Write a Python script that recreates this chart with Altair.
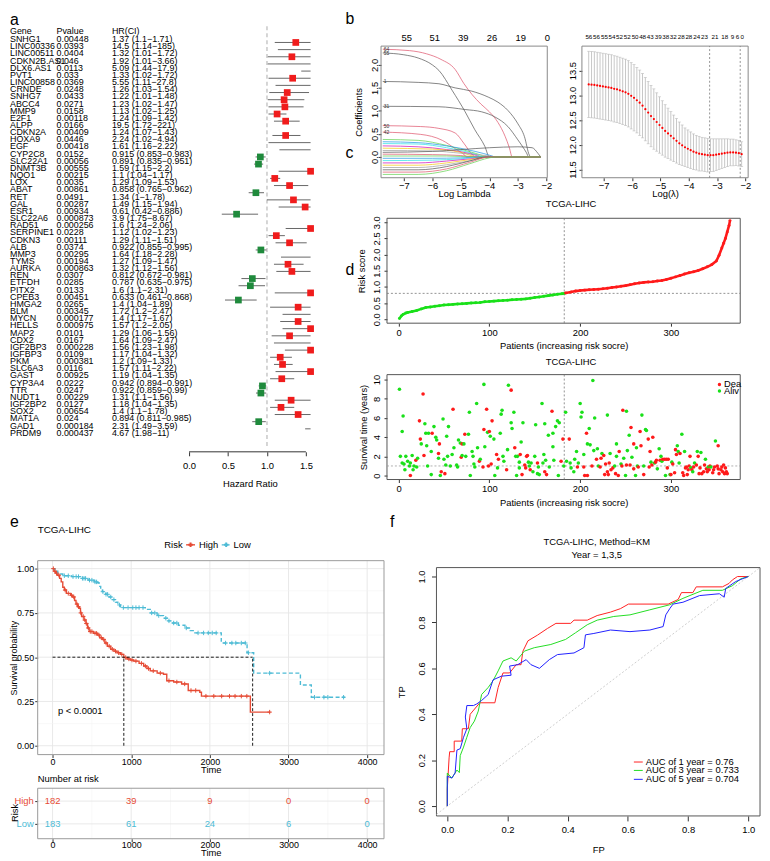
import altair as alt
import pandas as pd

# ============================================================ DATA
# ---- a: univariate Cox forest plot
genes = ["SNHG1", "LINC00336", "LINC00511", "CDKN2B.AS1", "DLX6.AS1", "PVT1", "LINC00858", "CRNDE", "SNHG7", "ABCC4",
         "MMP9", "E2F1", "ALPP", "CDKN2A", "HOXA9", "EGF", "CYP2C8", "SLC22A1", "DNMT3B", "NQO1",
         "LOX", "ABAT", "RET", "GAL", "ESR1", "SLC22A6", "RAD51", "SERPINE1", "CDKN3", "ALB",
         "MMP3", "TYMS", "AURKA", "REN", "ETFDH", "PITX2", "CPEB3", "HMGA2", "BLM", "MYCN",
         "HELLS", "MAP2", "CDX2", "IGF2BP3", "IGFBP3", "PKM", "SLC6A3", "GAST", "CYP3A4", "TTR",
         "NUDT1", "IGF2BP2", "SOX2", "MAT1A", "GAD1", "PRDM9"]
pvalues = [0.00448, 0.0393, 0.0404, 0.046, 0.0113, 0.033, 0.0369, 0.0248, 0.0433, 0.0271,
           0.0158, 0.00118, 0.0166, 0.00409, 0.0446, 0.00418, 0.0152, 0.00056, 0.00555, 0.00215,
           0.0035, 0.00861, 0.0491, 0.00287, 0.00934, 0.000873, 0.000256, 0.0228, 0.00111, 0.0374,
           0.00295, 0.00194, 0.000863, 0.0307, 0.0285, 0.0133, 0.00451, 0.0265, 0.00345, 0.000177,
           0.000975, 0.0101, 0.0167, 0.000228, 0.0109, 0.000381, 0.0116, 0.00925, 0.0222, 0.0247,
           0.00229, 0.0127, 0.00654, 0.024, 0.000184, 0.000437]
hr_est = [1.37, 14.5, 1.32, 1.92, 5.09, 1.33, 5.55, 1.26, 1.22, 1.23,
          1.13, 1.24, 19.5, 1.24, 2.24, 1.61, 0.915, 0.891, 1.59, 1.1,
          1.29, 0.858, 1.34, 1.49, 0.61, 3.9, 1.6, 1.12, 1.29, 0.922,
          1.64, 1.27, 1.32, 0.812, 0.787, 1.6, 0.633, 1.4, 1.72, 1.4,
          1.57, 1.29, 1.64, 1.56, 1.17, 1.2, 1.57, 1.19, 0.942, 0.922,
          1.31, 1.18, 1.4, 0.894, 2.31, 4.67]
hr_low = [1.1, 1.14, 1.01, 1.01, 1.44, 1.02, 1.11, 1.03, 1.01, 1.02,
          1.02, 1.09, 1.72, 1.07, 1.02, 1.16, 0.853, 0.835, 1.15, 1.04,
          1.09, 0.765, 1, 1.15, 0.42, 1.75, 1.24, 1.02, 1.11, 0.855,
          1.18, 1.09, 1.12, 0.672, 0.635, 1.1, 0.461, 1.04, 1.2, 1.17,
          1.2, 1.06, 1.09, 1.23, 1.04, 1.09, 1.11, 1.04, 0.894, 0.859,
          1.1, 1.04, 1.1, 0.811, 1.49, 1.98]
hr_high = [1.71, 185, 1.72, 3.66, 17.9, 1.72, 27.8, 1.54, 1.48, 1.47,
           1.25, 1.42, 221, 1.43, 4.94, 2.22, 0.983, 0.951, 2.2, 1.17,
           1.53, 0.962, 1.78, 1.94, 0.886, 8.67, 2.06, 1.23, 1.51, 0.995,
           2.28, 1.47, 1.56, 0.981, 0.975, 2.31, 0.868, 1.89, 2.47, 1.67,
           2.05, 1.56, 2.47, 1.98, 1.32, 1.33, 2.22, 1.35, 0.991, 0.99,
           1.56, 1.35, 1.78, 0.985, 3.59, 11]

# ---- b (left): LASSO coefficient paths (log lambda, coefficient)
b1_paths = {
    "64": [(-7.74, 2.34), (-6.8, 2.31), (-6.2, 2.24), (-5.7, 2.12), (-5.2, 1.90), (-4.9, 1.60), (-4.6, 1.35),
           (-4.3, 1.15), (-4.0, 0.98), (-3.7, 0.75), (-3.45, 0.45), (-3.3, 0.2), (-3.2, 0.0), (-2.2, 0.0)],
    "55": [(-7.74, 2.26), (-7.0, 2.22), (-6.5, 2.15), (-6.0, 2.0), (-5.77, 1.88), (-5.31, 1.45), (-4.85, 0.98),
           (-4.51, 0.59), (-4.16, 0.23), (-4.0, 0.0), (-2.2, 0.0)],
    "1": [(-7.74, 1.64), (-6.5, 1.62), (-5.77, 1.59), (-5.2, 1.50), (-4.62, 1.43), (-4.04, 1.30), (-3.7, 1.19),
          (-3.35, 1.01), (-3.0, 0.72), (-2.77, 0.44), (-2.6, 0.04), (-2.55, 0.0), (-2.2, 0.0)],
    "31": [(-7.74, 1.10), (-5.77, 1.09), (-4.85, 1.03), (-4.27, 0.98), (-3.81, 0.87), (-3.35, 0.66), (-3.0, 0.37),
           (-2.7, 0.09), (-2.62, 0.0), (-2.2, 0.0)],
    "50": [(-7.74, 0.68), (-6.41, 0.66), (-5.77, 0.62), (-5.2, 0.52), (-4.9, 0.30), (-4.6, 0.05), (-4.5, 0.0), (-2.2, 0.0)],
    "42": [(-7.74, 0.54), (-6.41, 0.49), (-5.65, 0.36), (-5.2, 0.18), (-4.85, 0.03), (-4.8, 0.0), (-2.2, 0.0)],
    "b1": [(-7.74, 0.38), (-6.5, 0.36), (-5.5, 0.25), (-4.5, 0.08), (-4.0, 0.0), (-2.2, 0.0)],
    "b2": [(-7.74, 0.33), (-6.5, 0.31), (-5.5, 0.24), (-4.5, 0.12), (-3.9, 0.02), (-3.8, 0.0), (-2.2, 0.0)],
    "b3": [(-7.74, 0.29), (-6.5, 0.28), (-5.5, 0.20), (-4.5, 0.06), (-4.2, 0.0), (-2.2, 0.0)],
    "b4": [(-7.74, 0.24), (-6.5, 0.22), (-5.5, 0.16), (-4.5, 0.04), (-4.3, 0.0), (-2.2, 0.0)],
    "b5": [(-7.74, 0.19), (-6.0, 0.17), (-5.0, 0.10), (-4.4, 0.0), (-2.2, 0.0)],
    "b6": [(-7.74, 0.14), (-6.0, 0.13), (-5.0, 0.08), (-4.0, 0.02), (-3.8, 0.0), (-2.2, 0.0)],
    "b7": [(-7.74, 0.10), (-6.0, 0.12), (-5.0, 0.16), (-4.0, 0.20), (-3.0, 0.22), (-2.5, 0.20), (-2.3, 0.08), (-2.2, 0.0)],
    "b8": [(-7.74, 0.06), (-6.0, 0.05), (-5.0, 0.03), (-4.5, 0.0), (-2.2, 0.0)],
    "b9": [(-7.74, 0.02), (-5.5, 0.02), (-4.5, 0.0), (-2.2, 0.0)],
    "b10": [(-7.74, -0.03), (-6.0, -0.03), (-5.0, -0.02), (-4.2, 0.0), (-2.2, 0.0)],
    "b11": [(-7.74, -0.08), (-6.0, -0.07), (-5.0, -0.04), (-4.3, 0.0), (-2.2, 0.0)],
    "b12": [(-7.74, -0.13), (-6.5, -0.13), (-5.5, -0.09), (-4.5, -0.03), (-4.0, 0.0), (-2.2, 0.0)],
    "b13": [(-7.74, -0.18), (-6.5, -0.18), (-5.5, -0.13), (-4.5, -0.04), (-4.1, 0.0), (-2.2, 0.0)],
    "b14": [(-7.74, -0.23), (-6.5, -0.23), (-5.5, -0.17), (-4.5, -0.06), (-4.0, 0.0), (-2.2, 0.0)],
    "b15": [(-7.74, -0.28), (-6.5, -0.28), (-5.5, -0.21), (-4.7, -0.09), (-4.1, 0.0), (-2.2, 0.0)],
    "b16": [(-7.74, -0.33), (-6.5, -0.33), (-5.5, -0.26), (-4.7, -0.12), (-4.0, 0.0), (-2.2, 0.0)],
    "b17": [(-7.74, -0.38), (-6.5, -0.38), (-5.5, -0.30), (-4.7, -0.15), (-4.0, -0.02), (-3.8, 0.0), (-2.2, 0.0)],
}
b1_tags = ["64", "55", "1", "31", "50", "42"]
b1_top_lam = [-6.90, -5.92, -4.92, -3.91, -2.90, -1.97]
b1_top_lab = ["55", "51", "39", "26", "19", "0"]

# ---- b (right): cross-validation curve
cv_lam = [-7.53, -7.43, -7.33, -7.23, -7.13, -7.03, -6.93, -6.83, -6.73, -6.63, -6.53, -6.43, -6.33, -6.23,
          -6.13, -6.03, -5.93, -5.83, -5.73, -5.63, -5.53, -5.43, -5.33, -5.23, -5.13, -5.03, -4.93, -4.83,
          -4.73, -4.63, -4.53, -4.43, -4.33, -4.23, -4.13, -4.03, -3.93, -3.83, -3.73, -3.63, -3.53, -3.43,
          -3.33, -3.23, -3.13, -3.03, -2.93, -2.83, -2.73, -2.63, -2.53, -2.43, -2.33, -2.23, -2.13]
cv_mean = [13.22, 13.215, 13.21, 13.20, 13.19, 13.18, 13.17, 13.16, 13.15, 13.13, 13.12, 13.10, 13.08, 13.06,
           13.03, 12.99, 12.95, 12.90, 12.85, 12.79, 12.72, 12.65, 12.58, 12.52, 12.46, 12.40, 12.34, 12.28,
           12.23, 12.18, 12.13, 12.08, 12.03, 11.99, 11.95, 11.92, 11.89, 11.86, 11.84, 11.82, 11.81, 11.80,
           11.79, 11.79, 11.79, 11.80, 11.81, 11.82, 11.83, 11.84, 11.845, 11.845, 11.84, 11.83, 11.81]
cv_se = [0.67, 0.67, 0.67, 0.67, 0.67, 0.67, 0.67, 0.67, 0.67, 0.67, 0.67, 0.67, 0.67, 0.67,
         0.67, 0.67, 0.67, 0.66, 0.66, 0.65, 0.64, 0.63, 0.62, 0.61, 0.59, 0.57, 0.55, 0.53,
         0.51, 0.49, 0.47, 0.45, 0.43, 0.41, 0.39, 0.38, 0.37, 0.36, 0.35, 0.35, 0.34, 0.34,
         0.34, 0.33, 0.33, 0.32, 0.31, 0.30, 0.29, 0.28, 0.27, 0.27, 0.26, 0.26, 0.25]
b2_top_lam = [-7.525, -7.256, -6.976, -6.71, -6.441, -6.172, -5.892, -5.627, -5.357, -5.078, -4.808,
              -4.543, -4.263, -3.994, -3.714, -3.445, -3.074, -2.725, -2.455, -2.28, -2.106]
b2_top_lab = ["56", "56", "55", "54", "52", "52", "50", "48", "43", "39", "38",
              "32", "28", "28", "24", "23", "21", "18", "9", "6", "0"]
b2_vlines = [-3.26, -2.18]

# ---- c: sorted risk scores
c_patient = [1, 3, 5, 8, 10, 15, 20, 25, 30, 35, 40, 45, 50, 55, 60, 65, 70, 75, 80, 85, 90, 95, 100, 105,
             110, 115, 120, 125, 130, 135, 140, 145, 150, 155, 160, 165, 170, 175, 180, 183, 184, 190, 195,
             200, 205, 210, 215, 220, 225, 230, 235, 240, 245, 250, 255, 260, 265, 270, 275, 280, 285, 290,
             295, 300, 305, 310, 315, 320, 325, 330, 335, 340, 345, 350, 353, 356, 358, 360, 362, 364, 365]
c_risk = [0.02, 0.10, 0.15, 0.19, 0.21, 0.24, 0.27, 0.32, 0.36, 0.38, 0.40, 0.42, 0.44, 0.45, 0.46, 0.47,
          0.48, 0.49, 0.50, 0.51, 0.52, 0.54, 0.55, 0.56, 0.57, 0.58, 0.59, 0.60, 0.61, 0.62, 0.63, 0.65,
          0.67, 0.69, 0.71, 0.73, 0.75, 0.77, 0.79, 0.80, 0.81, 0.84, 0.87, 0.89, 0.90, 0.91, 0.92, 0.93,
          0.94, 0.96, 0.98, 1.00, 1.02, 1.04, 1.07, 1.10, 1.12, 1.14, 1.15, 1.16, 1.18, 1.20, 1.23, 1.27,
          1.31, 1.35, 1.40, 1.44, 1.47, 1.51, 1.56, 1.62, 1.69, 1.80, 1.98, 2.20, 2.35, 2.50, 2.70, 2.90, 3.05]
n_low_risk = 183
risk_cutoff = 0.8

# ---- d: survival status by patient
d_patient = [1, 2, 4, 5, 4, 6, 8, 7, 10, 12, 13, 13, 15, 17, 16, 19, 21, 20, 23, 24,
             25, 27, 28, 29, 30, 31, 32, 33, 37, 36, 36, 39, 41, 42, 44, 44, 45, 46, 47, 49,
             50, 51, 52, 53, 54, 55, 57, 60, 59, 61, 64, 65, 66, 68, 69, 70, 70, 72, 73, 74,
             77, 78, 79, 81, 82, 83, 84, 86, 87, 89, 90, 94, 93, 94, 95, 97, 98, 99, 100, 101,
             102, 103, 105, 106, 108, 109, 110, 112, 113, 114, 115, 116, 119, 120, 121, 124, 124, 125, 127, 128,
             129, 130, 131, 133, 133, 134, 135, 136, 137, 139, 140, 141, 142, 143, 144, 145, 146, 148, 150, 151,
             153, 153, 154, 155, 158, 159, 160, 161, 161, 162, 163, 165, 166, 169, 170, 170, 171, 173, 175, 176,
             177, 179, 181, 182, 184, 185, 188, 189, 190, 193, 194, 196, 197, 198, 200, 202, 201, 204, 204, 205,
             207, 208, 208, 210, 211, 213, 214, 215, 216, 218, 219, 220, 222, 223, 224, 226, 227, 228, 230, 230,
             231, 232, 233, 234, 236, 238, 239, 240, 240, 242, 243, 245, 246, 247, 248, 250, 251, 251, 252, 254,
             255, 256, 257, 259, 259, 261, 262, 263, 264, 266, 267, 268, 270, 270, 272, 273, 275, 276, 277, 278,
             279, 280, 282, 283, 284, 285, 287, 288, 289, 290, 291, 293, 294, 295, 296, 297, 299, 300, 301, 302,
             304, 305, 306, 307, 308, 309, 310, 312, 313, 314, 315, 316, 317, 318, 319, 320, 321, 322, 323, 324,
             325, 326, 328, 329, 330, 331, 332, 333, 334, 336, 337, 338, 339, 340, 341, 342, 343, 344, 346, 347,
             348, 349, 351, 352, 352, 353, 355, 356, 357, 358, 359, 360, 361, 362]
d_years = [9.0, 2.0, 1.3, 6.2, 4.6, 1.2, 2.0, 0.6, 1.5, 1.0, 0.0, 1.3, 2.1, 1.0, 0.6, 1.6, 1.8, 0.9, 5.7, 3.8,
           3.3, 8.5, 2.1, 5.4, 4.4, 3.1, 1.0, 4.4, 4.4, 2.5, 0.1, 5.1, 4.0, 3.7, 2.3, 1.8, 3.3, 0.0, 0.4, 5.9,
           1.7, 0.2, 1.1, 4.1, 2.0, 5.1, 1.0, 6.9, 2.2, 2.9, 1.1, 0.9, 3.7, 3.4, 1.9, 2.1, 3.3, 3.3, 4.3, 2.0,
           4.3, 6.6, 0.0, 2.5, 2.0, 1.2, 0.9, 7.5, 2.9, 1.5, 1.7, 9.5, 0.9, 4.8, 3.0, 6.9, 4.5, 1.0, 4.6, 4.1,
           1.2, 5.7, 3.8, 0.0, 2.2, 0.8, 1.7, 4.4, 6.4, 6.8, 2.0, 1.5, 0.6, 2.7, 9.4, 8.9, 5.5, 4.9, 6.6, 2.9,
           2.0, 0.0, 2.0, 1.4, 0.8, 2.2, 3.5, 0.1, 5.5, 1.1, 0.8, 2.0, 2.1, 1.4, 1.0, 0.6, 1.3, 0.4, 2.0, 5.3,
           0.2, 1.3, 0.9, 0.1, 7.5, 1.3, 2.2, 0.4, 5.4, 1.6, 0.1, 4.2, 0.9, 6.7, 4.4, 3.0, 1.6, 5.1, 5.7, 0.0,
           5.5, 1.5, 3.8, 1.0, 6.6, 1.5, 3.8, 1.3, 0.8, 0.4, 1.7, 2.5, 0.9, 1.3, 7.5, 6.6, 6.1, 0.9, 2.2, 0.0,
           4.4, 3.3, 0.0, 4.9, 3.2, 1.0, 9.9, 2.6, 6.0, 1.7, 2.8, 1.0, 0.9, 1.8, 2.3, 2.1, 0.1, 1.2, 0.4, 6.3,
           0.1, 1.3, 2.3, 0.6, 0.8, 1.0, 0.2, 3.3, 2.0, 0.0, 2.5, 1.2, 1.0, 6.8, 1.8, 0.0, 1.1, 6.7, 2.6, 4.2,
           1.1, 5.0, 1.9, 3.3, 0.7, 0.0, 2.9, 1.0, 0.9, 4.6, 3.1, 6.3, 1.0, 0.1, 4.8, 4.7, 3.8, 0.9, 2.5, 1.4,
           1.1, 4.0, 1.3, 1.4, 1.6, 0.7, 2.8, 1.6, 2.0, 1.5, 1.7, 1.7, 0.0, 1.7, 0.8, 1.7, 0.1, 0.1, 1.4, 1.2,
           0.3, 2.7, 2.2, 3.1, 2.5, 1.3, 2.3, 4.3, 0.3, 0.0, 2.5, 0.8, 0.9, 0.1, 0.6, 1.0, 2.0, 0.8, 0.6, 0.4,
           0.9, 1.3, 1.1, 2.5, 2.0, 0.2, 0.8, 2.4, 0.2, 0.4, 1.1, 1.7, 0.7, 0.4, 0.9, 0.6, 1.0, 0.9, 0.3, 0.6,
           0.9, 3.6, 1.0, 0.7, 3.1, 0.2, 0.6, 0.9, 0.4, 1.1, 0.2, 0.8, 0.4, 0.2]
d_dead = [0, 0, 0, 0, 0, 0, 0, 0, 0, 0, 1, 0, 0, 0, 0, 1, 0, 0, 1, 1,
          0, 1, 1, 0, 0, 0, 0, 0, 1, 0, 0, 0, 0, 0, 1, 0, 1, 0, 1, 0,
          0, 1, 0, 0, 0, 0, 0, 1, 0, 0, 0, 0, 0, 0, 1, 0, 1, 0, 1, 0,
          0, 0, 0, 0, 0, 0, 0, 0, 0, 1, 0, 0, 1, 1, 0, 1, 0, 1, 1, 0,
          1, 1, 0, 0, 1, 0, 1, 0, 0, 0, 0, 0, 1, 0, 0, 1, 0, 0, 0, 1,
          0, 0, 0, 0, 0, 1, 0, 1, 0, 1, 1, 1, 1, 0, 0, 1, 0, 0, 0, 0,
          0, 1, 0, 0, 0, 0, 0, 1, 0, 0, 1, 0, 0, 1, 0, 0, 0, 0, 0, 0,
          0, 1, 1, 0, 0, 0, 1, 0, 0, 0, 0, 0, 1, 0, 0, 0, 0, 1, 0, 1,
          1, 0, 1, 0, 0, 1, 0, 0, 0, 1, 0, 0, 1, 1, 0, 1, 1, 1, 1, 0,
          1, 1, 0, 1, 1, 0, 1, 0, 0, 1, 1, 0, 1, 1, 0, 0, 1, 0, 0, 0,
          1, 1, 0, 1, 1, 0, 0, 0, 1, 1, 1, 0, 0, 1, 0, 0, 1, 1, 1, 0,
          1, 1, 0, 1, 1, 0, 0, 1, 0, 0, 1, 1, 0, 1, 1, 1, 0, 1, 0, 1,
          1, 1, 1, 0, 0, 0, 1, 0, 1, 1, 0, 1, 1, 1, 1, 1, 1, 0, 1, 0,
          1, 0, 1, 0, 1, 1, 1, 0, 1, 1, 1, 0, 1, 1, 0, 1, 1, 0, 1, 1,
          1, 0, 1, 1, 1, 1, 1, 1, 1, 1, 1, 1, 1, 1]

# ---- e: Kaplan-Meier curves (days, survival)
km_high_t = [0, 20, 40, 60, 90, 110, 130, 150, 175, 230, 256, 280, 298, 320, 340, 355, 369, 400, 424, 445,
             466, 520, 570, 600, 633, 665, 696, 740, 780, 820, 864, 906, 948, 990, 1032, 1100, 1158, 1200,
             1242, 1330, 1410, 1452, 1540, 1641, 1725, 1872, 1893, 2515, 2770]
km_high_s = [1.0, 0.985, 0.975, 0.963, 0.945, 0.925, 0.895, 0.879, 0.86, 0.85, 0.84, 0.82, 0.80, 0.785,
             0.776, 0.75, 0.73, 0.71, 0.69, 0.665, 0.645, 0.635, 0.625, 0.61, 0.60, 0.58, 0.562, 0.545,
             0.534, 0.525, 0.516, 0.498, 0.49, 0.484, 0.478, 0.465, 0.45, 0.436, 0.423, 0.41, 0.404,
             0.367, 0.36, 0.349, 0.312, 0.302, 0.28, 0.19, 0.19]
km_low_t = [0, 30, 67, 130, 240, 356, 450, 530, 570, 591, 612, 633, 675, 717, 760, 800, 830, 864, 1179,
            1242, 1330, 1410, 1460, 1515, 1600, 1683, 1750, 1809, 2145, 2473, 2557, 3151, 3290, 3718]
km_low_s = [1.0, 0.985, 0.97, 0.96, 0.955, 0.945, 0.935, 0.925, 0.92, 0.90, 0.885, 0.87, 0.855, 0.84,
            0.825, 0.81, 0.795, 0.78, 0.77, 0.75, 0.735, 0.72, 0.705, 0.693, 0.68, 0.665, 0.65, 0.637,
            0.58, 0.525, 0.41, 0.343, 0.274, 0.274]
km_high_cens = [10, 30, 50, 80, 160, 200, 240, 270, 310, 330, 360, 390, 410, 430, 455, 480, 500, 540, 560,
                590, 620, 650, 680, 720, 760, 800, 840, 880, 930, 970, 1010, 1060, 1130, 1180, 1220, 1280,
                1370, 1480, 1580, 1680, 1760, 1820, 1950, 2050, 2150, 2250, 2320, 2400, 2470, 2760]
km_low_cens = [150, 200, 260, 300, 330, 380, 400, 420, 470, 500, 540, 560, 640, 680, 700, 740, 780, 850,
               900, 960, 1020, 1060, 1100, 1150, 1260, 1300, 1350, 1440, 1480, 1540, 1580, 1700, 1850,
               1920, 1980, 2030, 2080, 2200, 2280, 2330, 2400, 2450, 2490, 2760, 3330, 3450, 3500, 3700]
km_median_high = 906
km_median_low = 2544
risk_times = [0, 1000, 2000, 3000, 4000]
risk_high = [182, 39, 9, 0, 0]
risk_low = [183, 61, 24, 6, 0]

# ---- f: time-dependent ROC
roc1_fp = [0, 0.0, 0.006, 0.008, 0.023, 0.023, 0.048, 0.05, 0.07, 0.076, 0.108, 0.158, 0.169, 0.185,
           0.207, 0.229, 0.245, 0.251, 0.268, 0.30, 0.333, 0.361, 0.41, 0.421, 0.465, 0.498, 0.542, 0.575,
           0.602, 0.734, 0.767, 0.778, 0.816, 0.827, 0.914, 0.936, 0.947, 0.964, 1.0]
roc1_tp = [0, 0.075, 0.21, 0.237, 0.237, 0.283, 0.283, 0.337, 0.337, 0.40, 0.45, 0.45, 0.517, 0.58,
           0.58, 0.616, 0.616, 0.674, 0.72, 0.745, 0.774, 0.796, 0.796, 0.81, 0.81, 0.83, 0.845, 0.86,
           0.88, 0.88, 0.90, 0.93, 0.93, 0.955, 0.955, 0.97, 0.985, 1.0, 1.0]
roc3_fp = [0, 0, 0.015, 0.032, 0.04, 0.043, 0.054, 0.065, 0.076, 0.09, 0.103, 0.114, 0.136, 0.152,
           0.169, 0.185, 0.212, 0.229, 0.256, 0.289, 0.344, 0.393, 0.426, 0.465, 0.498, 0.553, 0.607,
           0.673, 0.739, 0.783, 0.849, 0.914, 0.947, 0.975, 1.0]
roc3_tp = [0, 0.144, 0.122, 0.157, 0.146, 0.22, 0.257, 0.30, 0.342, 0.37, 0.414, 0.486, 0.517, 0.546,
           0.589, 0.632, 0.646, 0.632, 0.675, 0.69, 0.704, 0.726, 0.755, 0.79, 0.81, 0.826, 0.833,
           0.855, 0.877, 0.905, 0.94, 0.94, 0.96, 0.99, 1.0]
roc5_fp = [0, 0, 0.015, 0.026, 0.032, 0.043, 0.054, 0.065, 0.06, 0.065, 0.087, 0.098, 0.114, 0.136,
           0.152, 0.18, 0.212, 0.207, 0.234, 0.262, 0.278, 0.306, 0.339, 0.366, 0.421, 0.454, 0.459,
           0.487, 0.542, 0.607, 0.673, 0.717, 0.726, 0.739, 0.75, 0.783, 0.838, 0.904, 0.92, 0.925,
           0.958, 0.98, 1.0]
roc5_tp = [0, 0.13, 0.122, 0.144, 0.244, 0.25, 0.30, 0.337, 0.388, 0.438, 0.438, 0.445, 0.46, 0.486,
           0.55, 0.566, 0.57, 0.61, 0.616, 0.638, 0.616, 0.60, 0.638, 0.66, 0.667, 0.69, 0.746, 0.752,
           0.767, 0.76, 0.767, 0.782, 0.833, 0.86, 0.88, 0.888, 0.917, 0.925, 0.91, 0.948, 0.978, 0.99, 1.0]
auc_years = ["1", "3", "5"]
auc_values = [0.76, 0.733, 0.704]

# ============================================================ STYLE / LAYOUT
W, H = 762, 853
def X(v): return v - 8          # page px -> chart px
def Y(v): return v - 8

FONT = "Liberation Sans"
ONE = pd.DataFrame({"k": [0]})
RED_F, GREEN_F = "#F01C1C", "#1F8A3C"
RED_C, GREEN_C = "#FF1A1A", "#19E019"
KM_RED, KM_BLUE = "#E64B35", "#4DBBD5"
R_PAL = ["#555555", "#DF536B", "#61D04F", "#2297E6", "#28E2E5", "#CD0BBC", "#F5C710", "#9E9E9E"]


def lin(d0, d1, p0, p1, **kw):
    return alt.Scale(domain=[d0, d1], range=[p0, p1], nice=False, zero=False, **kw)


def xaxis(at, values, fmt, title, tick=3, pad=0, ext=10, tpad=0, size=9.5, tsize=9.5):
    return alt.Axis(orient="bottom", offset=Y(at) - H, values=values, format=fmt, title=title,
                    tickSize=tick, labelPadding=pad, minExtent=ext, maxExtent=ext, titlePadding=tpad,
                    domain=False, grid=False, labelFlush=False, labelOverlap=False,
                    labelFontSize=size, titleFontSize=tsize)


def yaxis(at, values, fmt, title, tick=3, pad=0, ext=12, tpad=0, rot=True, size=9.5, tsize=9.5):
    if rot:
        extra = dict(labelAngle=270, labelAlign="center", labelBaseline="bottom")
    else:
        extra = dict(labelAngle=0, labelAlign="right", labelBaseline="middle")
    return alt.Axis(orient="left", offset=-X(at), values=values, format=fmt, title=title,
                    tickSize=tick, labelPadding=pad, minExtent=ext, maxExtent=ext, titlePadding=tpad,
                    domain=False, grid=False, labelFlush=False, labelOverlap=False,
                    labelFontSize=size, titleFontSize=tsize, **extra)


def txt(s, x, y, size=9.5, align="center", angle=0, color="#000000", **kw):
    return alt.Chart(ONE).mark_text(text=s, align=align, baseline="middle", angle=angle, fontSize=size,
                                    color=color, font=FONT, **kw).encode(x=alt.value(X(x)), y=alt.value(Y(y)))


def xd(v, xs):
    return alt.XDatum(v, type="quantitative", scale=xs, axis=None)


def yd(v, ys):
    return alt.YDatum(v, type="quantitative", scale=ys, axis=None)


def frame(xs, ys, xdom, ydom, color="#555555", sw=1.0):
    return alt.Chart(ONE).mark_rect(fillOpacity=0, stroke=color, strokeWidth=sw).encode(
        x=xd(xdom[0], xs), x2=alt.X2Datum(xdom[1]), y=yd(ydom[0], ys), y2=alt.Y2Datum(ydom[1]))


layers = []

# ============================================================ panel a
fa = pd.DataFrame({"gene": genes, "p": pvalues, "hr": hr_est, "lo": hr_low, "hi": hr_high})
fa["ptxt"] = ["%g" % v for v in pvalues]
fa["citxt"] = ["%g (%g\u2212%g)" % (a, b, c) for a, b, c in zip(hr_est, hr_low, hr_high)]
fa["dir"] = ["up" if v > 1 else "down" for v in hr_est]
xa = lin(0, 1.56, X(191), X(313.8), clamp=True)
ya = alt.Scale(type="point", domain=genes, range=[Y(38.3), Y(436)], padding=0)


def ya_enc():
    return alt.Y("gene:N", scale=ya, sort=genes, axis=None)


layers.append(alt.Chart(ONE).mark_rule(color="#C8C8C8", strokeDash=[4, 3], strokeWidth=1.5).encode(
    x=xd(1, xa), y=alt.value(Y(22)), y2=alt.value(Y(447))))
layers.append(alt.Chart(fa).mark_rule(color="#666666", strokeWidth=1).encode(
    x=alt.X("lo:Q", scale=xa, axis=xaxis(452, [0, 0.5, 1, 1.5], ".1f", "Hazard Ratio", tick=4, pad=5, ext=27)),
    x2=alt.X2("hi"), y=ya_enc()))
layers.append(alt.Chart(ONE).mark_rule(color="#333333", strokeWidth=1).encode(
    x=xd(0, xa), x2=alt.X2Datum(1.5), y=alt.value(Y(452))))
layers.append(alt.Chart(fa).transform_filter("datum.hr <= 1.6").mark_point(
    shape="square", filled=True, size=46, opacity=1).encode(
    x=alt.X("hr:Q", scale=xa, axis=None), y=ya_enc(),
    color=alt.Color("dir:N", scale=alt.Scale(domain=["up", "down"], range=[RED_F, GREEN_F]), legend=None)))
for field, xpos in [("gene", 10), ("ptxt", 57), ("citxt", 113)]:
    layers.append(alt.Chart(fa).mark_text(align="left", baseline="middle", dy=-3.3, fontSize=9, font=FONT).encode(
        x=alt.value(X(xpos)), y=ya_enc(), text=f"{field}:N"))
layers += [txt("Gene", 10, 26.7, size=9, align="left"), txt("Pvalue", 57, 26.7, size=9, align="left"),
           txt("HR(CI)", 113, 26.7, size=9, align="left")]

# ============================================================ panel b left
b1x = lin(-7.8, -1.97, X(385), X(553))
b1y = lin(-0.452, 2.408, Y(175), Y(42))
rows = []
for name, pts in b1_paths.items():
    for lam, cf in pts:
        rows.append({"id": name, "lam": lam, "coef": cf})
b1df = pd.DataFrame(rows)
b1_ids = list(b1_paths.keys())
b1_cols = ["#DF536B", "#555555", "#555555", "#555555", "#DF536B", "#DF536B"] + \
          [R_PAL[(i + 2) % 8] for i in range(len(b1_ids) - 6)]
layers.append(frame(b1x, b1y, (-7.8, -1.97), (-0.452, 2.408), color="#888888"))
layers.append(alt.Chart(b1df).mark_line(strokeWidth=0.8, interpolate="monotone", opacity=0.9).encode(
    x=alt.X("lam:Q", scale=b1x, axis=xaxis(175, [-7, -6, -5, -4, -3, -2], "d", "Log Lambda", tick=3, pad=0, ext=11)),
    y=alt.Y("coef:Q", scale=b1y, axis=yaxis(385, [0, 0.5, 1, 1.5, 2], ".1f", "Coefficients", tick=3, pad=-1, ext=18)),
    color=alt.Color("id:N", scale=alt.Scale(domain=b1_ids, range=b1_cols), legend=None)))
tag_df = pd.DataFrame({"lam": [b1_paths[t][0][0] for t in b1_tags],
                       "coef": [b1_paths[t][0][1] for t in b1_tags], "lab": b1_tags})
layers.append(alt.Chart(tag_df).mark_text(fontSize=5, align="left", dx=1, color="#333333", font=FONT).encode(
    x=alt.X("lam:Q", scale=b1x, axis=None), y=alt.Y("coef:Q", scale=b1y, axis=None), text="lab:N"))
layers.append(alt.Chart(pd.DataFrame({"lam": b1_top_lam, "lab": b1_top_lab})).mark_text(
    fontSize=9.5, font=FONT).encode(x=alt.X("lam:Q", scale=b1x, axis=None), y=alt.value(Y(34)), text="lab:N"))

# ============================================================ panel b right
b2x = lin(-7.77, -1.90, X(588), X(756))
b2y = lin(11.334, 13.994, Y(175), Y(42))
cvdf = pd.DataFrame({"lam": cv_lam, "m": cv_mean, "se": cv_se})
cvdf["lo"] = cvdf["m"] - cvdf["se"]
cvdf["hi"] = cvdf["m"] + cvdf["se"]
layers.append(frame(b2x, b2y, (-7.77, -1.90), (11.334, 13.994), color="#888888"))
layers.append(alt.Chart(pd.DataFrame({"lam": b2_vlines})).mark_rule(color="#777777", strokeDash=[2, 2], strokeWidth=0.8).encode(
    x=alt.X("lam:Q", scale=b2x, axis=None), y=yd(11.334, b2y), y2=alt.Y2Datum(13.994)))
layers.append(alt.Chart(cvdf).mark_rule(color="#B8B8B8", strokeWidth=0.8).encode(
    x=alt.X("lam:Q", scale=b2x, axis=xaxis(175, [-7, -6, -5, -4, -3, -2], "d", "Log(\u03bb)", tick=3, pad=0, ext=11)),
    y=alt.Y("lo:Q", scale=b2y, axis=yaxis(588, [11.5, 12, 12.5, 13, 13.5], ".1f", None, tick=3, pad=1, ext=14)),
    y2=alt.Y2("hi")))
for fld in ["hi", "lo"]:
    layers.append(alt.Chart(cvdf).mark_tick(color="#B8B8B8", thickness=0.8, size=3, orient="horizontal").encode(
        x=alt.X("lam:Q", scale=b2x, axis=None), y=alt.Y(f"{fld}:Q", scale=b2y, axis=None)))
layers.append(alt.Chart(cvdf).mark_circle(color="#FF0000", size=5, opacity=1).encode(
    x=alt.X("lam:Q", scale=b2x, axis=None), y=alt.Y("m:Q", scale=b2y, axis=None)))
layers.append(alt.Chart(pd.DataFrame({"lam": b2_top_lam, "lab": b2_top_lab})).mark_text(
    fontSize=6.3, font=FONT).encode(x=alt.X("lam:Q", scale=b2x, axis=None), y=alt.value(Y(33)), text="lab:N"))

# ============================================================ panel c
cx = lin(-12.75, 376.3, X(391), X(748))
cy = lin(-0.122, 3.122, Y(322), Y(216))
cdf = pd.DataFrame({"patient": c_patient, "risk": c_risk})
cdf["grp"] = ["low" if p <= n_low_risk else "high" for p in c_patient]
c_color = alt.Color("grp:N", scale=alt.Scale(domain=["low", "high"], range=[GREEN_C, RED_C]), legend=None)
layers.append(frame(cx, cy, (-12.75, 376.3), (-0.122, 3.122)))
layers.append(alt.Chart(ONE).mark_rule(color="#777777", strokeDash=[2, 2], strokeWidth=0.8).encode(
    y=yd(risk_cutoff, cy), x=xd(-12.75, cx), x2=alt.X2Datum(376.3)))
layers.append(alt.Chart(ONE).mark_rule(color="#777777", strokeDash=[2, 2], strokeWidth=0.8).encode(
    x=xd(n_low_risk - 0.5, cx), y=yd(-0.122, cy), y2=alt.Y2Datum(3.122)))
layers.append(alt.Chart(cdf).mark_line(strokeWidth=2.6).encode(
    x=alt.X("patient:Q", scale=cx, axis=xaxis(322, [0, 100, 200, 300], "d", "Patients (increasing risk socre)", tick=3, pad=1, ext=18)),
    y=alt.Y("risk:Q", scale=cy, axis=yaxis(391, [0, 0.5, 1, 1.5, 2, 2.5, 3], ".1f", "Risk score", tick=3, pad=2.5, ext=20.6)),
    color=c_color))
layers.append(alt.Chart(cdf).mark_circle(size=9, opacity=1).encode(
    x=alt.X("patient:Q", scale=cx, axis=None), y=alt.Y("risk:Q", scale=cy, axis=None), color=c_color))
layers.append(txt("TCGA-LIHC", 577, 202))

# ============================================================ panel d
dxs = lin(-12.75, 376.3, X(391), X(748))
dys = lin(-0.412, 10.515, Y(480), Y(374))
ddf = pd.DataFrame({"patient": d_patient, "years": d_years, "dead": d_dead})
ddf["status"] = ["Dead" if s == 1 else "Alive" for s in d_dead]
layers.append(frame(dxs, dys, (-12.75, 376.3), (-0.412, 10.515)))
layers.append(alt.Chart(ONE).mark_rule(color="#999999", strokeDash=[2, 2], strokeWidth=0.8).encode(
    y=yd(1, dys), x=xd(-12.75, dxs), x2=alt.X2Datum(376.3)))
layers.append(alt.Chart(ONE).mark_rule(color="#777777", strokeDash=[2, 2], strokeWidth=0.8).encode(
    x=xd(n_low_risk - 0.5, dxs), y=yd(-0.412, dys), y2=alt.Y2Datum(10.515)))
layers.append(alt.Chart(ddf).mark_circle(size=13, opacity=1).encode(
    x=alt.X("patient:Q", scale=dxs, axis=xaxis(480, [0, 100, 200, 300], "d", "Patients (increasing risk socre)", tick=3, pad=1, ext=18)),
    y=alt.Y("years:Q", scale=dys, axis=yaxis(391, [0, 2, 4, 6, 8, 10], "d", "Survival time (years)", tick=3, pad=2.5, ext=19)),
    color=alt.Color("status:N", scale=alt.Scale(domain=["Dead", "Alive"], range=[RED_C, GREEN_C]), legend=None)))
layers.append(txt("TCGA-LIHC", 577, 361))
layers.append(alt.Chart(ONE).mark_circle(color=RED_C, size=12, opacity=1).encode(x=alt.value(X(727)), y=alt.value(Y(384))))
layers.append(alt.Chart(ONE).mark_circle(color=GREEN_C, size=12, opacity=1).encode(x=alt.value(X(727)), y=alt.value(Y(390.5))))
layers.append(txt("Dead", 731.5, 383.5, align="left", limit=20, ellipsis="\u200b"))
layers.append(txt("Alive", 731.5, 390.5, align="left", limit=20, ellipsis="\u200b"))

# ============================================================ panel e (KM)
ex = lin(-189, 4214, X(38), X(388))
ey = lin(-0.05, 1.045, Y(758), Y(562))


def km_at(ts, ss, t):
    v = ss[0]
    for ti, si in zip(ts, ss):
        if ti <= t:
            v = si
    return v


km_df = pd.concat([pd.DataFrame({"t": km_high_t, "s": km_high_s, "g": "High"}),
                   pd.DataFrame({"t": km_low_t, "s": km_low_s, "g": "Low"})])
cens_df = pd.concat([pd.DataFrame({"t": km_high_cens, "s": [km_at(km_high_t, km_high_s, t) for t in km_high_cens], "g": "High"}),
                     pd.DataFrame({"t": km_low_cens, "s": [km_at(km_low_t, km_low_s, t) for t in km_low_cens], "g": "Low"})])


def km_color():
    return alt.Color("g:N", scale=alt.Scale(domain=["High", "Low"], range=[KM_RED, KM_BLUE]), legend=None)


grid_major_x = pd.DataFrame({"v": [0, 1000, 2000, 3000, 4000]})
grid_minor_x = pd.DataFrame({"v": [500, 1500, 2500, 3500]})
grid_major_y = pd.DataFrame({"v": [0, 0.25, 0.5, 0.75, 1.0]})
grid_minor_y = pd.DataFrame({"v": [0.125, 0.375, 0.625, 0.875]})
for gdf, col, sw in [(grid_minor_x, "#F3F3F3", 0.6), (grid_major_x, "#E6E6E6", 0.9)]:
    layers.append(alt.Chart(gdf).mark_rule(color=col, strokeWidth=sw).encode(
        x=alt.X("v:Q", scale=ex, axis=None), y=yd(-0.05, ey), y2=alt.Y2Datum(1.045)))
for gdf, col, sw in [(grid_minor_y, "#F3F3F3", 0.6), (grid_major_y, "#E6E6E6", 0.9)]:
    layers.append(alt.Chart(gdf).mark_rule(color=col, strokeWidth=sw).encode(
        y=alt.Y("v:Q", scale=ey, axis=None), x=xd(-189, ex), x2=alt.X2Datum(4214)))
layers.append(frame(ex, ey, (-189, 4214), (-0.05, 1.045), color="#9A9A9A"))
layers.append(alt.Chart(km_df).mark_line(interpolate="step-after", strokeWidth=1.4).encode(
    x=alt.X("t:Q", scale=ex, axis=xaxis(758, [0, 1000, 2000, 3000, 4000], "d", "Time", tick=3, pad=0, ext=10, size=9, tsize=9.5)),
    y=alt.Y("s:Q", scale=ey, axis=yaxis(38, [0, 0.25, 0.5, 0.75, 1.0], ".2f", "Survival probability", tick=3, pad=1, ext=19.5, rot=False, size=9, tsize=9)),
    color=km_color(),
    strokeDash=alt.StrokeDash("g:N", scale=alt.Scale(domain=["High", "Low"], range=[[1, 0], [4, 2.5]]), legend=None)))
layers.append(alt.Chart(cens_df).mark_point(shape="M-1,0L1,0M0,-1L0,1", filled=False, size=20, strokeWidth=1, opacity=1).encode(
    x=alt.X("t:Q", scale=ex, axis=None), y=alt.Y("s:Q", scale=ey, axis=None), color=km_color()))
layers.append(alt.Chart(ONE).mark_rule(color="#000000", strokeDash=[3, 2], strokeWidth=0.9).encode(
    y=yd(0.5, ey), x=xd(0, ex), x2=alt.X2Datum(max(km_median_high, km_median_low))))
layers.append(alt.Chart(pd.DataFrame({"t": [km_median_high, km_median_low]})).mark_rule(
    color="#000000", strokeDash=[3, 2], strokeWidth=0.9).encode(
    x=alt.X("t:Q", scale=ex, axis=None), y=yd(0, ey), y2=alt.Y2Datum(0.5)))
layers.append(txt("p < 0.0001", 81, 714))
layers.append(txt("TCGA-LIHC", 38, 531, size=10, align="left"))
layers.append(txt("Risk", 166, 546, align="left"))
layers.append(alt.Chart(ONE).mark_rule(color=KM_RED, strokeWidth=1.4).encode(
    x=alt.value(X(188)), x2=alt.value(X(197)), y=alt.value(Y(546))))
layers.append(alt.Chart(ONE).mark_point(shape="M-1,0L1,0M0,-1L0,1", filled=False, size=20, color=KM_RED, opacity=1).encode(
    x=alt.value(X(192.5)), y=alt.value(Y(546))))
layers.append(txt("High", 201, 546, align="left"))
layers.append(alt.Chart(ONE).mark_rule(color=KM_BLUE, strokeWidth=1.4, strokeDash=[3, 2]).encode(
    x=alt.value(X(224)), x2=alt.value(X(233)), y=alt.value(Y(546))))
layers.append(alt.Chart(ONE).mark_point(shape="M-1,0L1,0M0,-1L0,1", filled=False, size=20, color=KM_BLUE, opacity=1).encode(
    x=alt.value(X(228.5)), y=alt.value(Y(546))))
layers.append(txt("Low", 236, 546, align="left"))

# ============================================================ risk table
tx = lin(-189, 4214, X(38), X(388))
ty = alt.Scale(type="point", domain=["High", "Low"], range=[Y(805), Y(828)], padding=0)
tdf = pd.concat([pd.DataFrame({"t": risk_times, "n": risk_high, "g": "High"}),
                 pd.DataFrame({"t": risk_times, "n": risk_low, "g": "Low"})])
for gdf, col, sw in [(grid_minor_x, "#F3F3F3", 0.6), (grid_major_x, "#E6E6E6", 0.9)]:
    layers.append(alt.Chart(gdf).mark_rule(color=col, strokeWidth=sw).encode(
        x=alt.X("v:Q", scale=tx, axis=None), y=alt.value(Y(792)), y2=alt.value(Y(843))))
layers.append(alt.Chart(pd.DataFrame({"g": ["High", "Low"]})).mark_rule(color="#E6E6E6", strokeWidth=0.9).encode(
    y=alt.Y("g:N", scale=ty, axis=alt.Axis(orient="left", offset=-X(38), labels=False, tickSize=3, domain=False,
                                          grid=False, title=None, tickColor="#333333")),
    x=xd(-189, tx), x2=alt.X2Datum(4214)))
layers.append(alt.Chart(ONE).mark_rect(fillOpacity=0, stroke="#9A9A9A", strokeWidth=1).encode(
    x=xd(-189, tx), x2=alt.X2Datum(4214), y=alt.value(Y(792)), y2=alt.value(Y(843))))
layers.append(alt.Chart(tdf).mark_text(fontSize=9.5, font=FONT, baseline="middle").encode(
    x=alt.X("t:Q", scale=tx, axis=xaxis(843, [0, 1000, 2000, 3000, 4000], "d", "Time", tick=3, pad=-1, ext=9, size=9)),
    y=alt.Y("g:N", scale=ty, axis=None), text="n:Q",
    color=alt.Color("g:N", scale=alt.Scale(domain=["High", "Low"], range=[KM_RED, KM_BLUE]), legend=None)))
layers.append(alt.Chart(pd.DataFrame({"g": ["High", "Low"]})).mark_text(fontSize=9.5, font=FONT, align="right", baseline="middle").encode(
    x=alt.value(X(34)), y=alt.Y("g:N", scale=ty, axis=None), text="g:N",
    color=alt.Color("g:N", scale=alt.Scale(domain=["High", "Low"], range=[KM_RED, KM_BLUE]), legend=None)))
layers.append(txt("Number at risk", 38, 783, align="left"))
layers.append(txt("Risk", 15, 817, angle=270))

# ============================================================ panel f (ROC)
fx = lin(-0.036, 1.039, X(441), X(768))
fy = lin(-0.043, 1.039, Y(820), Y(569))
roc_df = pd.concat([pd.DataFrame({"fp": roc1_fp, "tp": roc1_tp, "yr": "1", "i": range(len(roc1_fp))}),
                    pd.DataFrame({"fp": roc3_fp, "tp": roc3_tp, "yr": "3", "i": range(len(roc3_fp))}),
                    pd.DataFrame({"fp": roc5_fp, "tp": roc5_tp, "yr": "5", "i": range(len(roc5_fp))})])
ROC_COLS = ["#FF2020", "#22DD22", "#2020FF"]
layers.append(frame(fx, fy, (-0.036, 1.039), (-0.043, 1.039)))
layers.append(alt.Chart(ONE).mark_rule(color="#C8C8C8", strokeDash=[2, 2], strokeWidth=0.9).encode(
    x=xd(-0.036, fx), x2=alt.X2Datum(1.039), y=yd(-0.036, fy), y2=alt.Y2Datum(1.039)))
layers.append(alt.Chart(roc_df).mark_line(strokeWidth=1).encode(
    x=alt.X("fp:Q", scale=fx, axis=xaxis(820, [0, 0.2, 0.4, 0.6, 0.8, 1.0], ".1f", "FP", tick=5, pad=4, ext=29)),
    y=alt.Y("tp:Q", scale=fy, axis=yaxis(441, [0, 0.2, 0.4, 0.6, 0.8, 1.0], ".1f", "TP", tick=5, pad=5.5, ext=30.6)),
    color=alt.Color("yr:N", scale=alt.Scale(domain=auc_years, range=ROC_COLS), legend=None),
    order=alt.Order("i:Q")))
layers.append(txt("TCGA-LIHC, Method=KM", 603, 543))
layers.append(txt("Year = 1,3,5", 603, 556))
for k, (yr, auc, col) in enumerate(zip(auc_years, auc_values, ROC_COLS)):
    yy = [765.5, 774, 783][k]
    layers.append(alt.Chart(ONE).mark_rule(color=col, strokeWidth=1).encode(
        x=alt.value(X(640.5)), x2=alt.value(X(649.5)), y=alt.value(Y(yy))))
    layers.append(txt("AUC of %s year = %s" % (yr, "%g" % auc), 652.5, yy, align="left"))

# ============================================================ panel letters
for s, x, y in [("a", 10, 16), ("b", 349, 15), ("c", 349, 150), ("d", 349, 268), ("e", 10, 523), ("f", 394, 523)]:
    layers.append(txt(s, x, y, size=16, align="left"))

chart = alt.layer(*layers).resolve_scale(
    x="independent", y="independent", color="independent", strokeDash="independent"
).properties(
    width=W, height=H, padding=0, autosize=alt.AutoSizeParams(type="none"), background="white"
).configure_view(stroke="transparent").configure_axis(
    labelFont=FONT, titleFont=FONT, labelColor="#000000", titleColor="#000000",
    tickColor="#333333", titleFontWeight="normal", tickWidth=1
)

chart.save("out.html", embed_options={"renderer": "svg", "actions": False})
